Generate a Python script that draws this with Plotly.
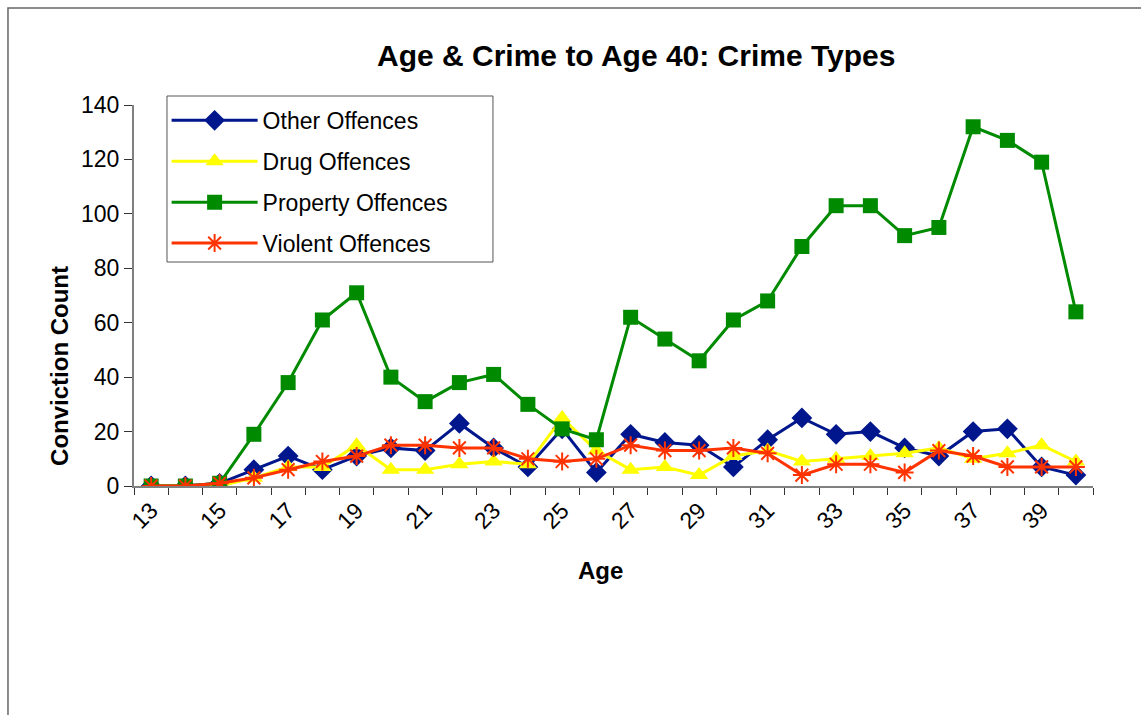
import plotly.graph_objects as go

# Conviction counts by age, split by offence type
ages = list(range(13, 41))

other_offences = [0, 0, 1, 6, 11, 6, 11, 14, 13, 23, 14, 7, 21, 5,
                  19, 16, 15, 7, 17, 25, 19, 20, 14, 11, 20, 21, 7, 4]
drug_offences = [0, 0, 0, 3, 7, 7, 15, 6, 6, 8, 9, 8, 25, 13,
                 6, 7, 4, 11, 13, 9, 10, 11, 12, 14, 10, 12, 15, 9]
property_offences = [0, 0, 1, 19, 38, 61, 71, 40, 31, 38, 41, 30, 21, 17,
                     62, 54, 46, 61, 68, 88, 103, 103, 92, 95, 132, 127, 119, 64]
violent_offences = [0, 0, 1, 3, 6, 9, 11, 15, 15, 14, 14, 10, 9, 10,
                    15, 13, 13, 14, 12, 4, 8, 8, 5, 13, 11, 7, 7, 7]

tick_ages = list(range(13, 40, 2))
y_ticks = list(range(0, 141, 20))

FONT = "Liberation Sans, Arial, sans-serif"
AXIS_GREY = "#808080"

series = [
    ("Other Offences", other_offences, "#00168C", "diamond", 16, None),
    ("Drug Offences", drug_offences, "#FFFF00", "triangle-up", 16, None),
    ("Property Offences", property_offences, "#008A00", "square", 15, None),
    ("Violent Offences", violent_offences, "#FF3300", "asterisk-open", 15, 2),
]

fig = go.Figure()
for i, (name, vals, color, symbol, size, mlw) in enumerate(series):
    marker = dict(symbol=symbol, size=size, color=color)
    if mlw:
        marker["line"] = dict(color=color, width=mlw)
    else:
        marker["line"] = dict(width=0)
    fig.add_trace(go.Scatter(
        x=ages, y=vals, name=name, mode="lines+markers",
        line=dict(color=color, width=3),
        marker=marker,
        legendgroup=f"g{i}",
    ))

fig.update_layout(
    width=1141, height=715,
    margin=dict(l=134, r=48, t=105, b=229),
    paper_bgcolor="white", plot_bgcolor="white",
    font=dict(family=FONT, size=22, color="black"),
    showlegend=True,
    legend=dict(
        x=0.034, y=1.016, xanchor="left", yanchor="top",
        bgcolor="rgba(0,0,0,0)", borderwidth=0,
        font=dict(family=FONT, size=23, color="black"),
        tracegroupgap=8, itemwidth=86,
    ),
    xaxis=dict(
        range=[12.5, 40.5], tickmode="array", tickvals=tick_ages,
        ticktext=[str(a) for a in tick_ages], tickangle=-45,
        ticks="", showgrid=False, zeroline=False,
        showline=True, linecolor=AXIS_GREY, linewidth=2,
        tickfont=dict(family=FONT, size=23, color="black"),
        minor=dict(tickmode="linear", tick0=12.5, dtick=1, ticks="outside",
                   ticklen=7, tickcolor="#333333", tickwidth=1, showgrid=False),
    ),
    yaxis=dict(
        range=[0, 140], tickmode="array", tickvals=y_ticks,
        ticks="outside", ticklen=8, tickcolor="#333333", tickwidth=1,
        showgrid=False, zeroline=False,
        showline=True, linecolor=AXIS_GREY, linewidth=2,
        tickfont=dict(family=FONT, size=23, color="black"),
    ),
    annotations=[
        dict(text="<b>Age & Crime to Age 40: Crime Types</b>",
             xref="paper", yref="paper", x=0.523, y=1.13,
             xanchor="center", yanchor="middle", showarrow=False,
             font=dict(family=FONT, size=30, color="black")),
        dict(text="<b>Conviction Count</b>", textangle=-90,
             xref="paper", yref="paper", x=-0.0772, y=0.315,
             xanchor="center", yanchor="middle", showarrow=False,
             font=dict(family=FONT, size=24, color="black")),
        dict(text="<b>Age</b>",
             xref="paper", yref="paper", x=0.486, y=-0.2205,
             xanchor="center", yanchor="middle", showarrow=False,
             font=dict(family=FONT, size=24, color="black")),
    ],
    shapes=[
        # outer chart-area frame
        dict(type="rect", xref="paper", yref="paper",
             x0=-0.1314, x1=1.06, y0=-0.62, y1=1.2546,
             line=dict(color="#666666", width=1.5), layer="below"),
        # legend box, drawn behind the legend entries
        dict(type="rect", xref="paper", yref="paper",
             x0=0.0344, x1=0.3743, y0=0.5879, y1=1.0236,
             fillcolor="white", line=dict(color="#555555", width=1),
             layer="above"),
    ],
)

fig.write_html("out.html")
